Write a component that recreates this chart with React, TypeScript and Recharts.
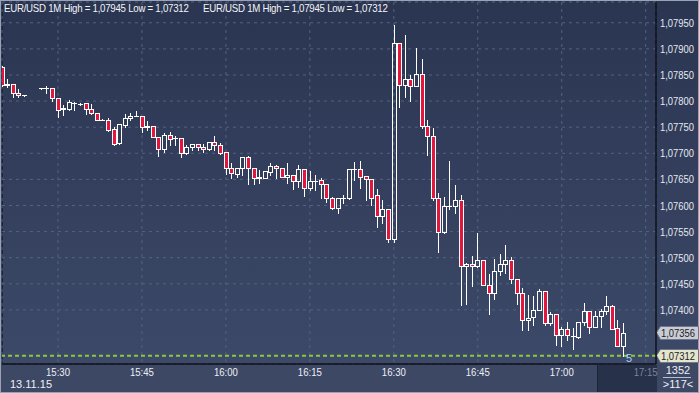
import { Bar, CartesianGrid, ComposedChart, ReferenceLine, XAxis, YAxis } from "recharts";

// minute of day (15:20 = 920) for each 1M candle
const minutes = [
  920, 921, 922, 923, 924, 927, 928, 929, 930, 931, 932, 933, 934, 935, 936, 937, 938, 939, 940,
  941, 942, 943, 944, 945, 946, 947, 948, 949, 950, 951, 952, 953, 954, 955, 956, 957, 958, 959,
  960, 961, 962, 963, 964, 965, 966, 967, 968, 969, 970, 971, 972, 973, 974, 975, 976, 977, 978,
  979, 980, 981, 982, 983, 984, 985, 986, 987, 988, 989, 990, 991, 992, 993, 994, 995, 996, 997,
  998, 999, 1000, 1001, 1002, 1003, 1004, 1005, 1006, 1007, 1008, 1009, 1010, 1011, 1012, 1013,
  1014, 1015, 1016, 1017, 1018, 1019, 1020, 1021, 1022, 1023, 1024, 1025, 1026, 1027, 1028, 1029,
  1030, 1031,
];

const opens = [
  1.07866, 1.07831, 1.07833, 1.07815, 1.07811, 1.07825, 1.07825, 1.07826, 1.07805, 1.07784, 1.07784,
  1.07797, 1.07795, 1.07796, 1.07785, 1.07777, 1.07764, 1.07764, 1.07746, 1.07719, 1.07754, 1.07767,
  1.07772, 1.07772, 1.07751, 1.07753, 1.07732, 1.07708, 1.07736, 1.07729, 1.07729, 1.07701, 1.07713,
  1.07717, 1.07713, 1.07708, 1.07721, 1.07716, 1.07702, 1.07671, 1.0766, 1.07671, 1.07692, 1.07671,
  1.07653, 1.07653, 1.07665, 1.07676, 1.07671, 1.07654, 1.07658, 1.07646, 1.07669, 1.07633, 1.07647,
  1.07649, 1.07641, 1.07614, 1.07596, 1.07615, 1.07614, 1.07669, 1.07669, 1.07656, 1.0765, 1.0762,
  1.07579, 1.07593, 1.07535, 1.07911, 1.0783, 1.07842, 1.07828, 1.07851, 1.07753, 1.07733, 1.07614,
  1.0755, 1.07599, 1.07599, 1.0761, 1.07484, 1.07488, 1.07484, 1.07496, 1.07447, 1.07432, 1.07475,
  1.07488, 1.07496, 1.0746, 1.07432, 1.07381, 1.07386, 1.07399, 1.07436, 1.07374, 1.07393, 1.07352,
  1.07363, 1.0735, 1.07349, 1.07376, 1.07397, 1.07367, 1.07389, 1.07397, 1.07407, 1.07365, 1.07331,
];

const highs = [
  1.07868, 1.07842, 1.07833, 1.07823, 1.07812, 1.07826, 1.07829, 1.07826, 1.07806, 1.07793, 1.07803,
  1.07799, 1.07797, 1.07796, 1.07794, 1.07777, 1.07765, 1.07767, 1.07751, 1.07756, 1.07775, 1.07777,
  1.07781, 1.07772, 1.07762, 1.07753, 1.07732, 1.07738, 1.07741, 1.07734, 1.07729, 1.07716, 1.07717,
  1.07717, 1.07717, 1.07721, 1.07733, 1.0772, 1.07702, 1.07682, 1.07671, 1.07692, 1.07695, 1.07671,
  1.07668, 1.07666, 1.07682, 1.07678, 1.07671, 1.07682, 1.07658, 1.07678, 1.07669, 1.07667, 1.07658,
  1.07652, 1.07641, 1.07616, 1.07614, 1.07621, 1.07669, 1.07684, 1.07685, 1.07656, 1.0765, 1.07631,
  1.07611, 1.07593, 1.07945, 1.07911, 1.07927, 1.0785, 1.07902, 1.0788, 1.07764, 1.07748, 1.07623,
  1.07617, 1.07685, 1.07639, 1.07621, 1.0749, 1.07503, 1.07547, 1.07496, 1.07469, 1.07497, 1.07508,
  1.07524, 1.07501, 1.0746, 1.07442, 1.07428, 1.07427, 1.0744, 1.07436, 1.07396, 1.07393, 1.07368,
  1.07376, 1.07366, 1.07376, 1.07413, 1.07397, 1.07397, 1.07401, 1.07427, 1.07409, 1.07381, 1.07374,
];

const lows = [
  1.07828, 1.07827, 1.07808, 1.07808, 1.0781, 1.07824, 1.07815, 1.078, 1.0777, 1.07773, 1.07783,
  1.07783, 1.07792, 1.07775, 1.07775, 1.07763, 1.07763, 1.07743, 1.07715, 1.07717, 1.07751, 1.07764,
  1.07771, 1.0774, 1.07745, 1.07731, 1.07695, 1.07703, 1.07716, 1.07716, 1.07693, 1.07698, 1.07706,
  1.07706, 1.07702, 1.07706, 1.07706, 1.07698, 1.0766, 1.07652, 1.07655, 1.07658, 1.07641, 1.07641,
  1.07644, 1.07653, 1.07658, 1.07652, 1.07654, 1.07643, 1.07631, 1.07636, 1.07618, 1.0763, 1.0763,
  1.07614, 1.07607, 1.07593, 1.07586, 1.07604, 1.07612, 1.07649, 1.07634, 1.07611, 1.07601, 1.07559,
  1.07566, 1.07531, 1.07531, 1.07789, 1.07808, 1.07801, 1.07828, 1.07748, 1.07697, 1.07611, 1.07511,
  1.07547, 1.07593, 1.07585, 1.07409, 1.07411, 1.07446, 1.07483, 1.07447, 1.07393, 1.0742, 1.07467,
  1.07471, 1.07451, 1.07411, 1.07361, 1.07361, 1.07371, 1.07399, 1.07371, 1.07371, 1.07333, 1.07331,
  1.07342, 1.07325, 1.07347, 1.07371, 1.07355, 1.07367, 1.07368, 1.07393, 1.07363, 1.0733, 1.07312,
];

const closes = [
  1.07831, 1.07832, 1.07815, 1.07811, 1.07811, 1.07825, 1.07826, 1.07805, 1.07783, 1.07786, 1.07798,
  1.07797, 1.07795, 1.07784, 1.07777, 1.07764, 1.07764, 1.07745, 1.07718, 1.07756, 1.07767, 1.07772,
  1.07772, 1.0775, 1.07753, 1.07732, 1.07708, 1.07736, 1.07727, 1.07729, 1.07701, 1.07713, 1.07717,
  1.07713, 1.07708, 1.07721, 1.07716, 1.07701, 1.07671, 1.07662, 1.07671, 1.07692, 1.07671, 1.07652,
  1.07654, 1.07666, 1.07676, 1.07671, 1.07654, 1.07658, 1.07646, 1.07669, 1.07633, 1.07647, 1.07647,
  1.07641, 1.07614, 1.07596, 1.07614, 1.07615, 1.07669, 1.0767, 1.07655, 1.0765, 1.07615, 1.07579,
  1.07593, 1.07535, 1.07911, 1.0783, 1.07842, 1.07828, 1.07851, 1.07753, 1.07733, 1.07614, 1.0755,
  1.07599, 1.07599, 1.0761, 1.07484, 1.07488, 1.07484, 1.07496, 1.07447, 1.07432, 1.07475, 1.07488,
  1.07496, 1.0746, 1.07432, 1.07381, 1.07384, 1.074, 1.07436, 1.07374, 1.07393, 1.07352, 1.07363,
  1.07352, 1.0735, 1.07376, 1.07397, 1.07367, 1.07389, 1.07398, 1.07407, 1.07363, 1.07331, 1.07356,
];

const timeTicks = [930, 945, 960, 975, 990, 1005, 1020, 1035];
const priceTicks = [1.074, 1.0745, 1.075, 1.0755, 1.076, 1.0765, 1.077, 1.0775, 1.078, 1.0785, 1.079, 1.0795];
const title = "EUR/USD 1M High = 1,07945 Low = 1,07312";
const dateLabel = "13.11.15";
const lastPrice = 1.07356;
const lowPrice = 1.07312;

const data = minutes.map((t, i) => ({
  t,
  open: opens[i],
  high: highs[i],
  low: lows[i],
  close: closes[i],
}));

const FONT = "'Liberation Sans', Arial, sans-serif";
const RED = "#e3173e";

const fmtPrice = (v: number) => v.toFixed(5).replace(".", ",");
const fmtTime = (m: number) => `${Math.floor(m / 60)}:${String(m % 60).padStart(2, "0")}`;

const Candle = (props: any) => {
  const { x, y, width, height, payload } = props;
  if (x == null || y == null || !payload) return null;
  const { open, close, high, low } = payload;
  const top = Math.min(y, y + height);
  const h = Math.abs(height);
  const span = high - low;
  const py = (p: number) => (span > 0 ? top + ((high - p) / span) * h : top);
  const c = Math.round(x + width / 2);
  const wx = c + 0.5;
  const yHigh = Math.round(py(high));
  const yLow = Math.round(py(low));
  const bTop = Math.round(Math.min(py(open), py(close)));
  const bBot = Math.round(Math.max(py(open), py(close)));
  const up = close >= open;
  if (bBot - bTop < 1) {
    return (
      <g>
        <line x1={wx} x2={wx} y1={yHigh} y2={yLow + 1} stroke="#fff" strokeWidth={1} />
        <line x1={c - 2} x2={c + 3} y1={bTop + 0.5} y2={bTop + 0.5} stroke="#fff" strokeWidth={1} />
      </g>
    );
  }
  return (
    <g>
      <line x1={wx} x2={wx} y1={yHigh} y2={bTop} stroke="#fff" strokeWidth={1} />
      <line x1={wx} x2={wx} y1={bBot} y2={yLow + 1} stroke="#fff" strokeWidth={1} />
      <rect
        x={c - 1.5}
        y={bTop + 0.5}
        width={4}
        height={bBot - bTop}
        fill={up ? "none" : RED}
        stroke="#fff"
        strokeWidth={1}
      />
    </g>
  );
};

const TimeTick = (props: any) => {
  const { x, payload } = props;
  const dim = payload.value >= 1035;
  return (
    <text
      x={x}
      y={376}
      textAnchor="middle"
      fontSize={11}
      fontFamily={FONT}
      fill={dim ? "#7b8499" : "#eef0f5"}
      textLength={24}
      lengthAdjust="spacingAndGlyphs"
    >
      {fmtTime(payload.value)}
    </text>
  );
};

const PriceTick = (props: any) => {
  const { y, payload } = props;
  return (
    <text
      x={660}
      y={y + 4}
      fontSize={10.5}
      fontFamily={FONT}
      fill="#e6e9f0"
      textLength={34}
      lengthAdjust="spacingAndGlyphs"
    >
      {fmtPrice(payload.value)}
    </text>
  );
};

const PriceTag = ({ viewBox, value, fill }: any) => {
  if (!viewBox) return null;
  const x0 = viewBox.x + viewBox.width;
  const yc = Math.round(viewBox.y) - 1;
  return (
    <g>
      <polygon
        points={`${x0 + 0.5},${yc + 0.5} ${x0 + 4.5},${yc - 5.5} ${x0 + 42.5},${yc - 5.5} ${x0 + 42.5},${yc + 7.5} ${x0 + 4.5},${yc + 7.5}`}
        fill={fill}
        stroke="#6e7687"
        strokeWidth={1}
      />
      <text
        x={x0 + 5}
        y={yc + 5}
        fontSize={10}
        fontFamily={FONT}
        fill="#1a1d24"
        textLength={34}
        lengthAdjust="spacingAndGlyphs"
      >
        {fmtPrice(value)}
      </text>
    </g>
  );
};

const titleStyle: any = {
  position: "absolute",
  top: 2,
  fontSize: 11,
  color: "#f2f4f8",
  whiteSpace: "nowrap",
  letterSpacing: -0.3,
  transform: "scaleX(0.88)",
  transformOrigin: "left top",
};

export default function App() {
  return (
    <div style={{ position: "absolute", left: 0, top: 0, width: 699, height: 393, overflow: "hidden", fontFamily: FONT }}>
      {/* backgrounds */}
      <div style={{ position: "absolute", left: 0, top: 0, width: 699, height: 364, background: "linear-gradient(#2a3551, #3c4968)" }} />
      <div style={{ position: "absolute", left: 0, top: 364, width: 699, height: 29, background: "#3d4865" }} />
      <div style={{ position: "absolute", left: 597, top: 365, width: 59, height: 28, background: "#27314a", borderLeft: "1px solid #1d2436" }} />
      <div style={{ position: "absolute", left: 0, top: 0, width: 697, height: 391, border: "1px solid #9aa3b5" }} />
      <div style={{ position: "absolute", left: 2, top: 2, width: 1, height: 362, background: "#1c2335" }} />

      <div style={{ position: "absolute", left: 0, top: 0 }}>
        <ComposedChart width={699} height={393} data={data} margin={{ top: 2, right: 0, left: 2, bottom: 0 }}>
          <CartesianGrid stroke="#55627f" strokeDasharray="3 4" />
          <XAxis
            dataKey="t"
            type="number"
            domain={[920, 1036.84]}
            ticks={timeTicks}
            allowDataOverflow
            height={29}
            axisLine={{ stroke: "#0c0f16", strokeWidth: 1.5 }}
            tickLine={false}
            tick={<TimeTick />}
            interval={0}
          />
          <YAxis
            orientation="right"
            type="number"
            domain={[1.072964, 1.079898]}
            ticks={priceTicks}
            allowDataOverflow
            width={43}
            axisLine={{ stroke: "#0c0f16", strokeWidth: 1.5 }}
            tickLine={false}
            interval={0}
            tick={<PriceTick />}
          />
          <Bar dataKey={(d: any) => [d.low, d.high]} barSize={5} shape={<Candle />} isAnimationActive={false} />
          <ReferenceLine
            y={lowPrice}
            stroke="#8cc83c"
            strokeWidth={2}
            strokeDasharray="4 3"
            label={<PriceTag value={lowPrice} fill="#e4e5cc" />}
          />
          <ReferenceLine y={lastPrice} stroke="none" label={<PriceTag value={lastPrice} fill="#c9ccd4" />} />
        </ComposedChart>
      </div>

      {/* texts */}
      <div style={{ ...titleStyle, left: 4 }}>{title}</div>
      <div style={{ ...titleStyle, left: 203 }}>{title}</div>
      <div style={{ position: "absolute", left: 10, top: 378, fontSize: 11, color: "#eef0f5" }}>{dateLabel}</div>
      <div style={{ position: "absolute", left: 626, top: 352, fontSize: 11, color: "#a9d2ff" }}>5</div>
      <div style={{ position: "absolute", left: 657, top: 364, width: 42, textAlign: "center", fontSize: 11, color: "#eef0f5" }}>
        1352
      </div>
      <div style={{ position: "absolute", left: 663, top: 377, width: 28, height: 1, background: "#b8bfcc" }} />
      <div style={{ position: "absolute", left: 657, top: 378, width: 42, textAlign: "center", fontSize: 11, color: "#eef0f5" }}>
        &gt;117&lt;
      </div>
    </div>
  );
}
